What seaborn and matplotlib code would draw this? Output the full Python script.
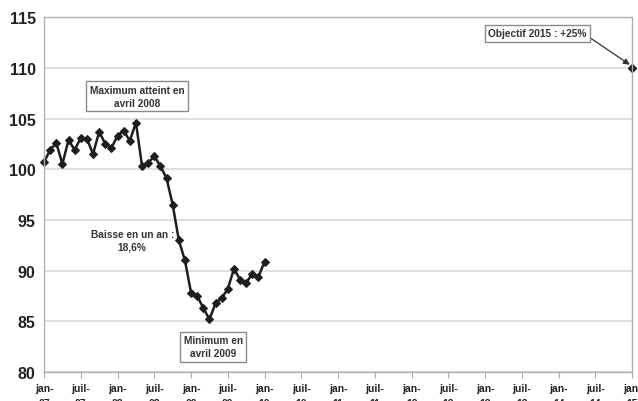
import numpy as np
import pandas as pd
import seaborn as sns
import matplotlib.pyplot as plt

# monthly index, jan-07 .. jan-10 (base 100 = jan-07)
index_values = [100.7, 101.9, 102.6, 100.5, 102.9, 101.9, 103.1, 103.0, 101.5, 103.7,
                102.5, 102.1, 103.3, 103.8, 102.8, 104.6, 100.3, 100.6, 101.3, 100.3,
                99.1, 96.5, 93.0, 91.0, 87.8, 87.5, 86.3, 85.2, 86.8, 87.3,
                88.2, 90.2, 89.1, 88.8, 89.7, 89.4, 90.9]
target_month = 96
target_value = 110

tick_labels = ['jan-\n07', 'juil-\n07', 'jan-\n08', 'juil-\n08', 'jan-\n09', 'juil-\n09',
               'jan-\n10', 'juil-\n10', 'jan-\n11', 'juil-\n11', 'jan-\n12', 'juil-\n12',
               'jan-\n13', 'juil-\n13', 'jan-\n14', 'juil-\n14', 'jan-\n15']

df = pd.DataFrame({'month': np.arange(len(index_values)), 'value': index_values})

sns.set_style('white')
plt.rcParams['font.family'] = ['Liberation Sans', 'DejaVu Sans']

fig = plt.figure(figsize = (6.38, 4.02), dpi = 100)
ax = fig.add_axes([0.069, 0.072, 0.922, 0.883])

ax.yaxis.grid(True, color = '#d9d9d9', linewidth = 1.2)
ax.set_axisbelow(True)

sns.lineplot(data = df, x = 'month', y = 'value', ax = ax, color = '#1e1e1e', linewidth = 1.8,
             marker = 'D', markersize = 4.5, markeredgecolor = '#1e1e1e', clip_on = False)
ax.plot([target_month], [target_value], marker = 'D', markersize = 4.5, color = '#1e1e1e', clip_on = False)

ax.set_xlim(0, 96)
ax.set_ylim(80, 115)
ax.set_xticks(np.arange(0, 97, 6))
ax.set_xticklabels(tick_labels, fontsize = 7.5, fontweight = 'bold', color = '#222222', linespacing = 1.6)
ax.set_yticks(np.arange(80, 116, 5))
ax.tick_params(axis = 'y', labelsize = 11.5, length = 0, pad = 6)
ax.tick_params(axis = 'x', length = 4, width = 0.8, color = '#aaaaaa', bottom = True, pad = 4)
for t in ax.get_yticklabels():
    t.set_fontweight('bold')
    t.set_color('#222222')
ax.set_xlabel('')
ax.set_ylabel('')

for s in ax.spines.values():
    s.set_color('#b0b0b0')
    s.set_linewidth(1)

box = dict(boxstyle = 'square,pad=0.35', facecolor = 'white', edgecolor = '#8a8a8a', linewidth = 1)
ax.text(15.2, 107.2, 'Maximum atteint en\navril 2008', ha = 'center', va = 'center',
        fontsize = 7.3, fontweight = 'bold', color = '#333333', bbox = box, linespacing = 1.4)
ax.text(14.4, 93.0, 'Baisse en un an :\n18,6%', ha = 'center', va = 'center',
        fontsize = 7.3, fontweight = 'bold', color = '#333333', linespacing = 1.4)
ax.text(27.6, 82.5, 'Minimum en\navril 2009', ha = 'center', va = 'center',
        fontsize = 7.3, fontweight = 'bold', color = '#333333', bbox = box, linespacing = 1.4)
ax.annotate('Objectif 2015 : +25%', xy = (target_month - 0.4, target_value + 0.3), xytext = (80.5, 113.4),
            ha = 'center', va = 'center', fontsize = 7.3, fontweight = 'bold', color = '#333333', bbox = box,
            arrowprops = dict(arrowstyle = '-|>', color = '#333333', linewidth = 0.9,
                              shrinkA = 0, shrinkB = 0, mutation_scale = 9,
                              relpos = (1.0, 0.3)))

plt.savefig('out.png', dpi = 100)
plt.close()
